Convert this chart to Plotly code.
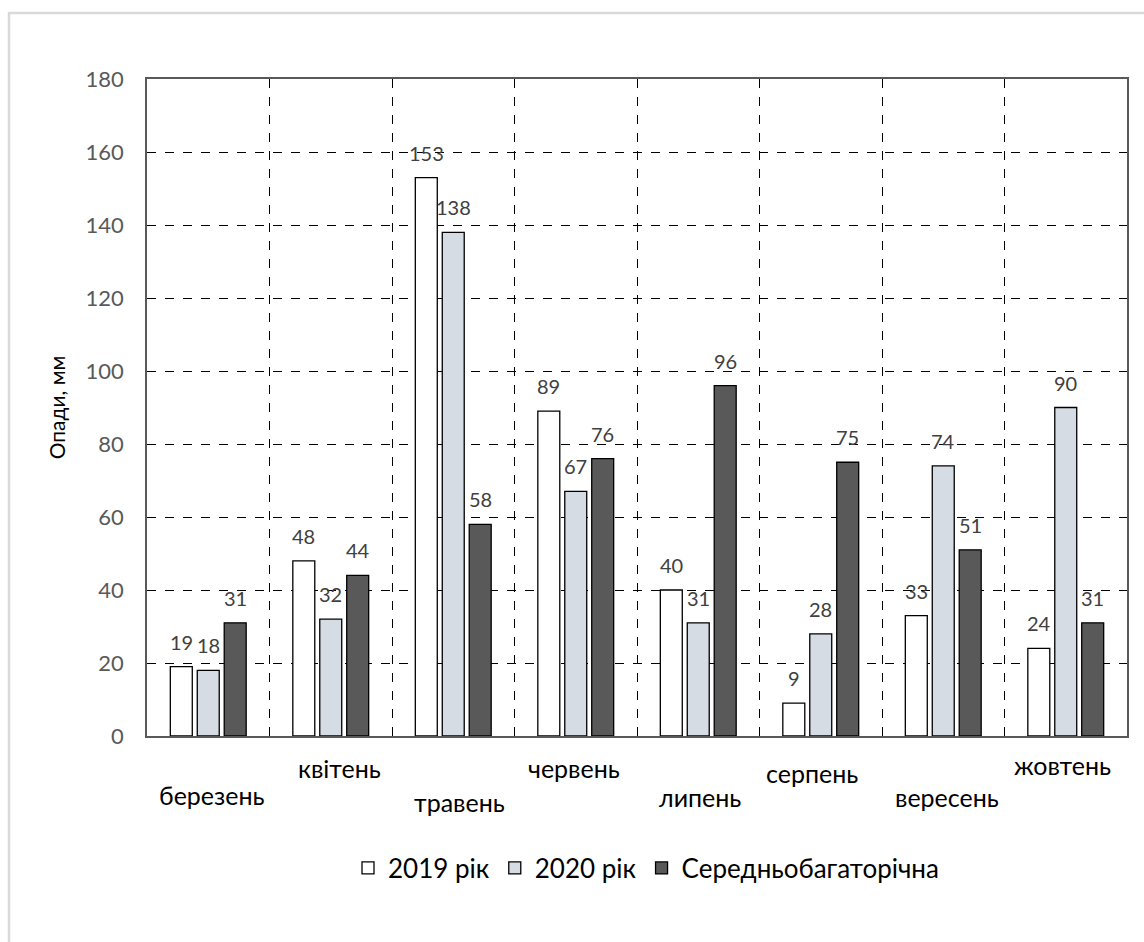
import plotly.graph_objects as go

months = ["березень", "квітень", "травень", "червень", "липень", "серпень", "вересень", "жовтень"]
y2019 = [19, 48, 153, 89, 40, 9, 33, 24]
y2020 = [18, 32, 138, 67, 31, 28, 74, 90]
avg = [31, 44, 58, 76, 96, 75, 51, 31]
series_names = ["2019 рік", "2020 рік", "Середньобагаторічна"]

# pixel offsets for the staggered category labels (layout only)
label_yshift = [-59, -32, -66, -32, -61, -37, -61, -29]
label_xshift = [4, 9, 6, -2, 2, -9, 4, -3]

FONT = "Lato"
W, H = 1144, 942
ML, MR, MT, MB = 147, 17, 79, 206
pw, ph = W - ML - MR, H - MT - MB

fig = go.Figure()
colors = ["#ffffff", "#d6dce4", "#595959"]
offsets = [-27, 0, 27]
for name, vals, c, dx in zip(series_names, [y2019, y2020, avg], colors, offsets):
    fig.add_trace(go.Bar(
        x=months, y=vals, name=name,
        marker=dict(color=c, line=dict(color="#000000", width=1.3)),
    ))
    for m, v in zip(months, vals):
        fig.add_annotation(x=m, y=v, xref="x", yref="y", text=str(v), showarrow=False,
                           xshift=dx, yshift=11, yanchor="bottom",
                           font=dict(family=FONT, size=20, color="#404040"))

for m, sy, sx in zip(months, label_yshift, label_xshift):
    fig.add_annotation(x=m, xref="x", y=0, yref="paper", yshift=sy, xshift=sx,
                       text=m, showarrow=False, yanchor="middle",
                       font=dict(family=FONT, size=25, color="#000000"))

# outer light gray chart border
fig.add_shape(type="rect", xref="paper", yref="paper",
              x0=(9 - ML) / pw, x1=(W + 20 - ML) / pw,
              y0=-(H + 20 - MT - ph) / ph, y1=(H - MB - 13) / ph,
              line=dict(color="#d9d9d9", width=2.5), layer="below")

fig.update_layout(
    width=W, height=H,
    margin=dict(l=ML, r=MR, t=MT, b=MB),
    paper_bgcolor="white", plot_bgcolor="white",
    barmode="group", bargap=0.34, bargroupgap=0.185,
    font=dict(family=FONT),
    showlegend=True,
    legend=dict(orientation="h", x=(646 - ML) / pw, xanchor="center", y=-(868 - 736) / ph, yanchor="middle",
                font=dict(family=FONT, size=26, color="#000000"), traceorder="normal",
                itemwidth=30, tracegroupgap=0),
    xaxis=dict(type="category", showticklabels=False, tickson="boundaries",
               showgrid=True, gridcolor="#000000", griddash="dash", gridwidth=1,
               showline=True, linecolor="#595959", linewidth=1.5, mirror=True, ticks=""),
    yaxis=dict(range=[0, 180], dtick=20, showgrid=True, gridcolor="#000000", griddash="dash",
               gridwidth=1, showline=True, linecolor="#595959", linewidth=1.5, mirror=True,
               tickfont=dict(family=FONT, size=22, color="#595959"), ticks="",
               ticklabelstandoff=17,
               title=dict(text="Опади, мм", font=dict(family=FONT, size=21, color="#000000"), standoff=14),
               zeroline=False),
)

fig.write_html("out.html")
